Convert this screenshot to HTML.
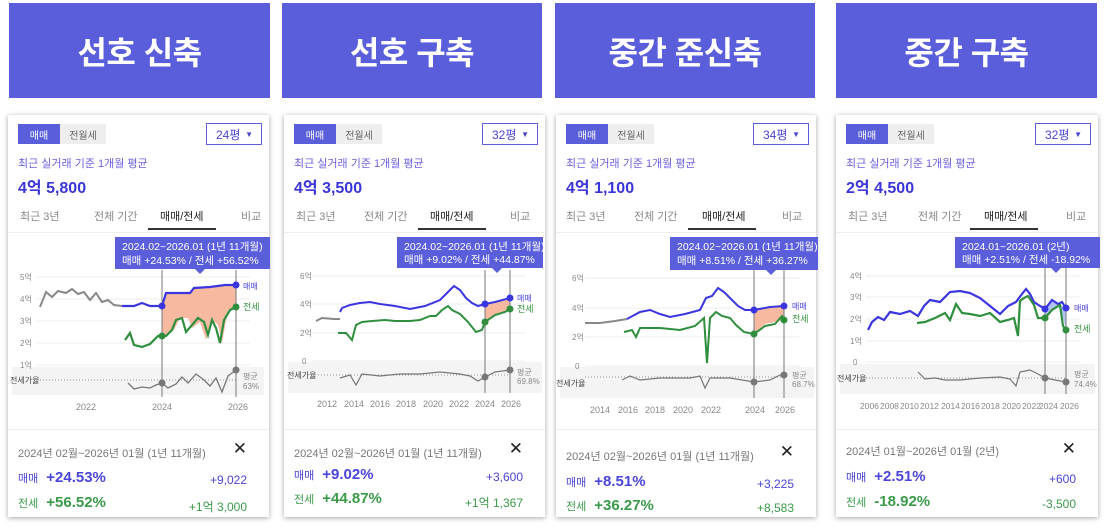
<!DOCTYPE html>
<html><head><meta charset="utf-8"><style>
*{margin:0;padding:0;box-sizing:border-box}
body{width:1108px;height:532px;background:#fff;position:relative;overflow:hidden;font-family:"Liberation Sans","Noto Sans CJK KR",sans-serif}
.hd{position:absolute;top:3px;height:95px;background:#5a5edb;color:#fff;font-size:32px;font-weight:bold;display:flex;align-items:center;justify-content:center;letter-spacing:-0.5px}
.card{position:absolute;top:115px;height:402px;background:#fff;box-shadow:0 1px 5px rgba(0,0,0,.35)}
.tg{position:absolute;top:9px;left:10px;height:20px;display:flex;font-size:10px}
.tg .a{width:42px;background:#5a5edb;color:#fff;display:flex;align-items:center;justify-content:center}
.tg .b{width:46px;background:#eee;color:#666;display:flex;align-items:center;justify-content:center}
.dd{position:absolute;top:8px;right:7px;width:56px;height:22px;border:1.5px solid #5a5edb;font-size:12px;color:#4a45d0;display:flex;align-items:center;padding-left:9px}
.dd span{position:absolute;right:8px;font-size:8px;color:#4a45d0}
.sub{position:absolute;top:40px;left:10px;font-size:11px;color:#6a5fe0}
.big{position:absolute;top:59px;left:10px;font-size:16px;font-weight:bold;color:#3a35d8}
.tab{position:absolute;top:93px;font-size:11px;color:#888}
.tab.on{color:#222}
.ul{position:absolute;top:113px;left:140px;width:68px;height:2px;background:#333}
.ln{position:absolute;top:117px;left:0;right:0;height:1px;background:#eee}
.ln2{position:absolute;top:314px;left:0;right:0;height:1px;background:#eee}
.dt{position:absolute;top:330px;left:10px;font-size:11px;color:#777}
.x{position:absolute;top:324px;right:22px;font-size:17px;color:#222}
.r{position:absolute;left:10px;font-size:11px}
.r b{font-size:15px;margin-left:8px}
.rv{position:absolute;right:22px;font-size:12px}
.m{color:#4a45d8}.j{color:#3a9a4a}
</style></head><body>
<div class="hd" style="left:9px;width:261px">선호 신축</div>
<div class="hd" style="left:282px;width:260px">선호 구축</div>
<div class="hd" style="left:555px;width:260px">중간 준신축</div>
<div class="hd" style="left:836px;width:261px">중간 구축</div>

<div class="card" style="left:8px;width:261px">
<div class="tg"><div class="a">매매</div><div class="b">전월세</div></div>
<div class="dd">24평<span>▼</span></div>
<div class="sub">최근 실거래 기준 1개월 평균</div><div class="big">4억 5,800</div>
<div class="tab" style="left:12px">최근 3년</div><div class="tab" style="left:86px">전체 기간</div><div class="tab on" style="left:152px">매매/전세</div><div class="tab" style="left:233px">비교</div>
<div class="ul"></div><div class="ln"></div><div class="ln2"></div>
<div class="dt">2024년 02월~2026년 01월 (1년 11개월)</div><div class="x">✕</div>
<div class="r m" style="top:354px">매매<b>+24.53%</b></div><div class="rv m" style="top:358px">+9,022</div>
<div class="r j" style="top:379px">전세<b>+56.52%</b></div><div class="rv j" style="top:383px">+1억 3,000</div>
</div>

<div class="card" style="left:284px;width:261px">
<div class="tg"><div class="a">매매</div><div class="b">전월세</div></div>
<div class="dd">32평<span>▼</span></div>
<div class="sub">최근 실거래 기준 1개월 평균</div><div class="big">4억 3,500</div>
<div class="tab" style="left:12px">최근 3년</div><div class="tab" style="left:80px">전체 기간</div><div class="tab on" style="left:146px">매매/전세</div><div class="tab" style="left:226px">비교</div>
<div class="ul" style="left:134px"></div><div class="ln"></div><div class="ln2"></div>
<div class="dt">2024년 02월~2026년 01월 (1년 11개월)</div><div class="x">✕</div>
<div class="r m" style="top:351px">매매<b>+9.02%</b></div><div class="rv m" style="top:355px">+3,600</div>
<div class="r j" style="top:375px">전세<b>+44.87%</b></div><div class="rv j" style="top:379px">+1억 1,367</div>
</div>

<div class="card" style="left:556px;width:260px">
<div class="tg"><div class="a">매매</div><div class="b">전월세</div></div>
<div class="dd">34평<span>▼</span></div>
<div class="sub">최근 실거래 기준 1개월 평균</div><div class="big">4억 1,100</div>
<div class="tab" style="left:10px">최근 3년</div><div class="tab" style="left:78px">전체 기간</div><div class="tab on" style="left:146px">매매/전세</div><div class="tab" style="left:226px">비교</div>
<div class="ul" style="left:132px"></div><div class="ln"></div><div class="ln2"></div>
<div class="dt" style="top:333px">2024년 02월~2026년 01월 (1년 11개월)</div><div class="x" style="top:327px">✕</div>
<div class="r m" style="top:358px">매매<b>+8.51%</b></div><div class="rv m" style="top:362px">+3,225</div>
<div class="r j" style="top:382px">전세<b>+36.27%</b></div><div class="rv j" style="top:386px">+8,583</div>
</div>

<div class="card" style="left:836px;width:262px">
<div class="tg"><div class="a">매매</div><div class="b">전월세</div></div>
<div class="dd">32평<span>▼</span></div>
<div class="sub">최근 실거래 기준 1개월 평균</div><div class="big">2억 4,500</div>
<div class="tab" style="left:12px">최근 3년</div><div class="tab" style="left:82px">전체 기간</div><div class="tab on" style="left:148px">매매/전세</div><div class="tab" style="left:230px">비교</div>
<div class="ul" style="left:134px"></div><div class="ln"></div><div class="ln2"></div>
<div class="dt" style="top:328px">2024년 01월~2026년 01월 (2년)</div><div class="x">✕</div>
<div class="r m" style="top:353px">매매<b>+2.51%</b></div><div class="rv m" style="top:357px">+600</div>
<div class="r j" style="top:378px">전세<b>-18.92%</b></div><div class="rv j" style="top:382px">-3,500</div>
</div>

<svg width="1108" height="532" style="position:absolute;left:0;top:0" font-family="Liberation Sans,Noto Sans CJK KR,sans-serif">
<g font-size="8" fill="#888">
<rect x="12" y="367" width="252" height="28" fill="#f4f4f4"/>
<g stroke="#eee"><line x1="36" y1="277" x2="250" y2="277"/><line x1="36" y1="299" x2="250" y2="299"/><line x1="36" y1="321" x2="250" y2="321"/><line x1="36" y1="343" x2="250" y2="343"/><line x1="36" y1="365" x2="250" y2="365"/></g>
<text x="20" y="280">5억</text><text x="20" y="302">4억</text><text x="20" y="324">3억</text><text x="20" y="346">2억</text><text x="20" y="368">1억</text>
<text x="10" y="383" fill="#444">전세가율</text><line x1="40" y1="380" x2="236" y2="380" stroke="#999" stroke-dasharray="1,2"/>
<polygon points="162,306 166,293 190,293 194,288 210,287 225,285 236,285 236,307 228,310 222,343 218,325 212,320 206,340 200,322 192,328 188,318 180,318 174,330 166,336 162,336" fill="#f5a98a" opacity=".8"/>
<polyline points="40,307 46,292 52,297 58,291 66,293 72,289 78,294 84,292 90,300 96,293 102,302 108,300 114,305 122,306" fill="none" stroke="#888" stroke-width="2"/>
<polyline points="122,306 134,306 142,303 150,306 162,306 166,293 190,293 194,288 210,287 225,285 236,285" fill="none" stroke="#3b35e0" stroke-width="2.2"/>
<polyline points="125,340 130,333 134,345 142,347 150,344 158,336 162,336 166,336 172,330 176,320 182,318 186,332 192,325 198,318 204,322 208,335 212,320 216,328 220,343 224,320 230,310 236,307" fill="none" stroke="#2f8f3f" stroke-width="2.2"/>
<polyline points="128,383 134,389 142,387 150,388 156,385 162,383 168,388 176,384 182,377 188,383 196,374 204,380 210,386 216,378 222,392 228,376 236,370" fill="none" stroke="#777" stroke-width="1.3"/>
<g stroke="#777"><line x1="162" y1="270" x2="162" y2="397"/><line x1="236" y1="270" x2="236" y2="397"/></g>
<circle cx="162" cy="306" r="3.5" fill="#3b35e0"/><circle cx="236" cy="285" r="3.5" fill="#3b35e0"/><circle cx="162" cy="336" r="3.5" fill="#2f8f3f"/><circle cx="236" cy="307" r="3.5" fill="#2f8f3f"/><circle cx="162" cy="383" r="3.5" fill="#777"/><circle cx="236" cy="370" r="3.5" fill="#777"/>
<text x="243" y="289" fill="#4a45d8">매매</text><text x="243" y="310" fill="#2f8f3f" font-size="9">전세</text><text x="243" y="379">평균</text><text x="243" y="389">63%</text>
<text x="76" y="410" font-size="9">2022</text><text x="152" y="410" font-size="9">2024</text><text x="228" y="410" font-size="9">2026</text>
<rect x="115" y="237" width="155" height="32" fill="#5a5edb"/><polygon points="195,269 205,269 200,274" fill="#5a5edb"/>
<text x="122" y="250" fill="#fff" font-size="10.5">2024.02~2026.01 (1년 11개월)</text><text x="122" y="264" fill="#fff" font-size="10.5">매매 +24.53%  /  전세 +56.52%</text>

<rect x="288" y="362" width="254" height="31" fill="#f4f4f4"/>
<g stroke="#eee"><line x1="312" y1="276" x2="525" y2="276"/><line x1="312" y1="304" x2="525" y2="304"/><line x1="312" y1="333" x2="525" y2="333"/><line x1="312" y1="361" x2="525" y2="361"/></g>
<text x="300" y="279">6억</text><text x="300" y="307">4억</text><text x="300" y="336">2억</text><text x="302" y="364">0</text>
<text x="287" y="378" fill="#444">전세가율</text><line x1="318" y1="375" x2="510" y2="375" stroke="#999" stroke-dasharray="1,2"/>
<polygon points="485,304 495,302 510,298 510,309 500,314 490,318 485,322" fill="#f5a98a" opacity=".8"/>
<polyline points="316,321 322,318 334,319 340,319" fill="none" stroke="#888" stroke-width="2"/>
<polyline points="340,312 342,308 350,305 360,303 370,302 380,304 395,306 410,309 425,306 440,300 448,292 454,286 460,290 466,298 472,303 478,306 485,304 495,302 510,298" fill="none" stroke="#3b35e0" stroke-width="2"/>
<polyline points="338,333 346,333 352,340 356,325 362,322 372,321 385,320 395,321 410,321 420,320 430,316 436,316 442,310 448,306 452,310 460,314 468,322 476,332 482,330 485,322 495,315 505,312 510,309" fill="none" stroke="#2f8f3f" stroke-width="2"/>
<polyline points="340,378 350,375 356,385 362,374 380,376 400,374 420,374 440,372 460,374 470,376 478,381 485,377 495,372 510,370" fill="none" stroke="#777" stroke-width="1.2"/>
<g stroke="#777"><line x1="485" y1="270" x2="485" y2="393"/><line x1="510" y1="270" x2="510" y2="393"/></g>
<circle cx="485" cy="304" r="3.5" fill="#3b35e0"/><circle cx="510" cy="298" r="3.5" fill="#3b35e0"/><circle cx="485" cy="322" r="3.5" fill="#2f8f3f"/><circle cx="510" cy="309" r="3.5" fill="#2f8f3f"/><circle cx="485" cy="377" r="3.5" fill="#777"/><circle cx="510" cy="370" r="3.5" fill="#777"/>
<text x="517" y="301" fill="#4a45d8">매매</text><text x="517" y="312" fill="#2f8f3f" font-size="9">전세</text><text x="517" y="375">평균</text><text x="517" y="384">69.8%</text>
<g font-size="9"><text x="317" y="407">2012</text><text x="344" y="407">2014</text><text x="370" y="407">2016</text><text x="396" y="407">2018</text><text x="423" y="407">2020</text><text x="449" y="407">2022</text><text x="475" y="407">2024</text><text x="501" y="407">2026</text></g>
<rect x="397" y="237" width="146" height="31" fill="#5a5edb"/><polygon points="492,268 502,268 497,273" fill="#5a5edb"/>
<text x="404" y="250" fill="#fff" font-size="10.5">2024.02~2026.01 (1년 11개월)</text><text x="404" y="263" fill="#fff" font-size="10.5">매매 +9.02%  /  전세 +44.87%</text>

<rect x="560" y="367" width="254" height="31" fill="#f4f4f4"/>
<g stroke="#eee"><line x1="585" y1="278" x2="800" y2="278"/><line x1="585" y1="308" x2="800" y2="308"/><line x1="585" y1="337" x2="800" y2="337"/><line x1="585" y1="366" x2="800" y2="366"/></g>
<text x="572" y="281">6억</text><text x="572" y="311">4억</text><text x="572" y="340">2억</text><text x="575" y="369">0</text>
<text x="556" y="386" fill="#444">전세가율</text><line x1="585" y1="377" x2="784" y2="377" stroke="#999" stroke-dasharray="1,2"/>
<polygon points="754,309 770,307 784,306 784,320 775,322 765,324 754,334" fill="#f5a98a" opacity=".8"/>
<polyline points="585,323 600,323 615,321 627,319" fill="none" stroke="#888" stroke-width="2"/>
<polyline points="627,319 640,312 650,310 660,314 670,317 685,314 700,310 706,298 712,296 718,288 724,292 730,298 738,306 745,310 754,310 770,307 784,306" fill="none" stroke="#3b35e0" stroke-width="2"/>
<polyline points="624,332 632,330 636,337 640,328 660,328 680,330 695,326 704,318 707,363 710,318 716,312 722,316 730,318 736,325 744,332 754,334 765,326 775,324 782,316 784,320" fill="none" stroke="#2f8f3f" stroke-width="2"/>
<polyline points="622,380 630,376 640,380 660,378 690,378 700,376 705,388 710,378 730,378 754,382 770,380 784,373" fill="none" stroke="#777" stroke-width="1.2"/>
<g stroke="#777"><line x1="754" y1="270" x2="754" y2="398"/><line x1="784" y1="270" x2="784" y2="398"/></g>
<circle cx="754" cy="310" r="3.5" fill="#3b35e0"/><circle cx="784" cy="306" r="3.5" fill="#3b35e0"/><circle cx="754" cy="334" r="3.5" fill="#2f8f3f"/><circle cx="784" cy="320" r="3.5" fill="#2f8f3f"/><circle cx="754" cy="382" r="3.5" fill="#777"/><circle cx="784" cy="375" r="3.5" fill="#777"/>
<text x="792" y="309" fill="#4a45d8">매매</text><text x="792" y="322" fill="#2f8f3f" font-size="9">전세</text><text x="792" y="378">평균</text><text x="792" y="387">68.7%</text>
<g font-size="9"><text x="590" y="413">2014</text><text x="618" y="413">2016</text><text x="645" y="413">2018</text><text x="673" y="413">2020</text><text x="701" y="413">2022</text><text x="745" y="413">2024</text><text x="775" y="413">2026</text></g>
<rect x="670" y="237" width="148" height="33" fill="#5a5edb"/><polygon points="766,270 776,270 771,275" fill="#5a5edb"/>
<text x="677" y="250" fill="#fff" font-size="10.5">2024.02~2026.01 (1년 11개월)</text><text x="677" y="264" fill="#fff" font-size="10.5">매매 +8.51%  /  전세 +36.27%</text>

<rect x="840" y="364" width="255" height="30" fill="#f4f4f4"/>
<g stroke="#eee"><line x1="866" y1="276" x2="1080" y2="276"/><line x1="866" y1="297" x2="1080" y2="297"/><line x1="866" y1="319" x2="1080" y2="319"/><line x1="866" y1="341" x2="1080" y2="341"/><line x1="866" y1="362" x2="1080" y2="362"/></g>
<text x="850" y="279">4억</text><text x="850" y="300">3억</text><text x="850" y="322">2억</text><text x="850" y="344">1억</text><text x="853" y="365">0</text>
<text x="837" y="381" fill="#444">전세가율</text><line x1="866" y1="378" x2="1066" y2="378" stroke="#999" stroke-dasharray="1,2"/>
<polygon points="1045,309 1052,300 1058,304 1066,308 1066,330 1060,305 1052,310 1045,318" fill="#9fb4f0" opacity=".8"/>
<polyline points="868,330 872,322 878,317 884,320 890,312 900,314 910,311 918,316 924,306 930,300 940,302 946,296 950,292 960,291 970,293 980,298 990,306 1000,314 1008,306 1016,302 1022,294 1026,289 1030,294 1034,302 1040,306 1045,309 1052,300 1058,304 1062,302 1066,308" fill="none" stroke="#3b35e0" stroke-width="2.2"/>
<polyline points="917,323 925,322 935,318 945,313 950,320 956,304 962,313 970,314 980,316 990,313 1000,322 1008,320 1014,318 1018,336 1020,301 1024,298 1028,296 1034,305 1038,318 1045,318 1052,310 1060,305 1063,326 1066,330" fill="none" stroke="#2f8f3f" stroke-width="2.2"/>
<polyline points="918,372 925,379 935,378 945,380 960,380 980,378 1000,377 1010,379 1016,386 1020,372 1030,370 1038,374 1045,378 1055,380 1066,382" fill="none" stroke="#777" stroke-width="1.2"/>
<g stroke="#777"><line x1="1045" y1="268" x2="1045" y2="394"/><line x1="1066" y1="268" x2="1066" y2="394"/></g>
<circle cx="1045" cy="309" r="3.5" fill="#3b35e0"/><circle cx="1066" cy="308" r="3.5" fill="#3b35e0"/><circle cx="1045" cy="318" r="3.5" fill="#2f8f3f"/><circle cx="1066" cy="330" r="3.5" fill="#2f8f3f"/><circle cx="1045" cy="378" r="3.5" fill="#777"/><circle cx="1066" cy="382" r="3.5" fill="#777"/>
<text x="1074" y="311" fill="#4a45d8">매매</text><text x="1074" y="332" fill="#2f8f3f" font-size="9">전세</text><text x="1074" y="377">평균</text><text x="1074" y="387">74.4%</text>
<g font-size="8.5"><text x="860" y="409">2006</text><text x="880" y="409">2008</text><text x="900" y="409">2010</text><text x="920" y="409">2012</text><text x="941" y="409">2014</text><text x="961" y="409">2016</text><text x="981" y="409">2018</text><text x="1002" y="409">2020</text><text x="1022" y="409">2022</text><text x="1039" y="409">2024</text><text x="1060" y="409">2026</text></g>
<rect x="955" y="237" width="145" height="31" fill="#5a5edb"/><polygon points="1051,268 1061,268 1056,273" fill="#5a5edb"/>
<text x="962" y="250" fill="#fff" font-size="10.5">2024.01~2026.01 (2년)</text><text x="962" y="263" fill="#fff" font-size="10.5">매매 +2.51%  /  전세 -18.92%</text>
</g>
</svg>
</body></html>
